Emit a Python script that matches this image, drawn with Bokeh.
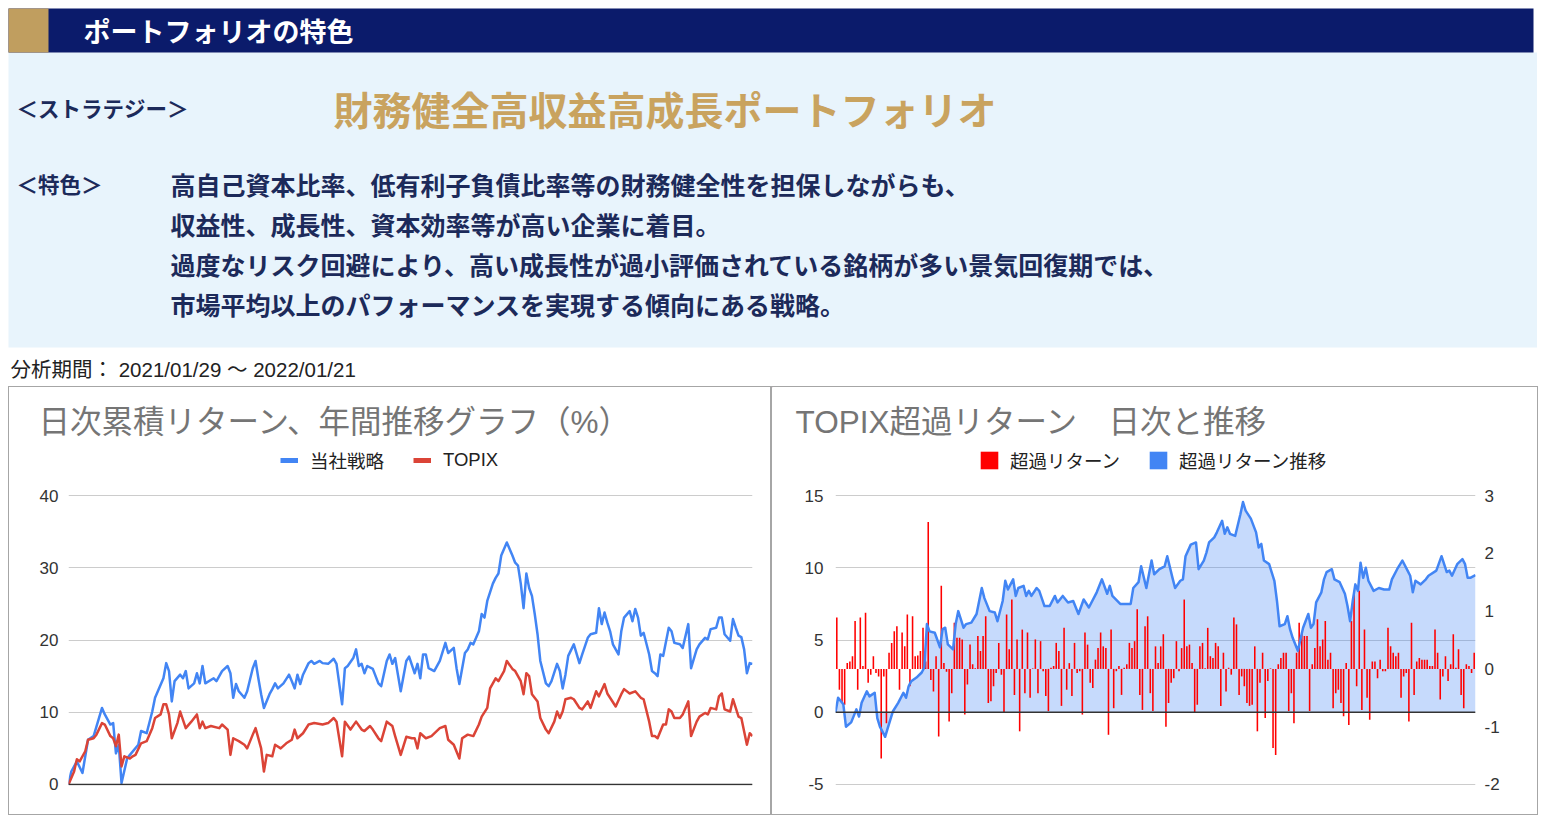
from bokeh.plotting import figure
from bokeh.models import Range1d, LinearAxis, Legend, LegendItem, Span, FixedTicker, Spacer
from bokeh.layouts import column, row
from bokeh.embed import file_html
from bokeh.resources import INLINE
from bokeh.core.properties import value

# ---------------- texts ----------------
header_title = "ポートフォリオの特色"
strategy_label = "＜ストラテジー＞"
strategy_name = "財務健全高収益高成長ポートフォリオ"
feature_label = "＜特色＞"
feature_lines = [
    "高自己資本比率、低有利子負債比率等の財務健全性を担保しながらも、",
    "収益性、成長性、資本効率等が高い企業に着目。",
    "過度なリスク回避により、高い成長性が過小評価されている銘柄が多い景気回復期では、",
    "市場平均以上のパフォーマンスを実現する傾向にある戦略。",
]
period_text = "分析期間： 2021/01/29 ～ 2022/01/21"

chart1_title = "日次累積リターン、年間推移グラフ（%）"
chart2_title = "TOPIX超過リターン　日次と推移"
chart1_series = ["当社戦略", "TOPIX"]
chart2_series = ["超過リターン", "超過リターン推移"]

left_ticks = [0, 10, 20, 30, 40]
excess_ticks = [-5, 0, 5, 10, 15]
daily_ticks = [-2, -1, 0, 1, 2, 3]

# ---------------- chart 1: cumulative return (%) by trading day ----------------
strategy_days = [
    0, 1, 3, 5, 7, 9, 12, 13, 15, 16,
    17, 18, 19, 21, 22, 25, 26, 28, 30, 31,
    32, 34, 35, 36, 37, 38, 40, 41, 42, 43,
    45, 46, 47, 48, 49, 52, 53, 55, 57, 58,
    59, 60, 61, 63, 64, 66, 67, 68, 69, 70,
    72, 73, 74, 75, 77, 79, 80, 81, 82, 83,
    84, 86, 87, 88, 90, 91, 93, 95, 96, 98,
    99, 100, 102, 103, 104, 105, 106, 107, 109, 111,
    112, 114, 115, 116, 117, 118, 119, 121, 122, 124,
    125, 126, 127, 128, 129, 131, 133, 135, 136, 138,
    139, 140, 142, 143, 144, 145, 147, 148, 149, 150,
    152, 153, 154, 155, 156, 157, 159, 160, 161, 162,
    163, 164, 165, 166, 167, 168, 169, 171, 172, 173,
    175, 176, 177, 178, 179, 181, 183, 184, 186, 187,
    189, 190, 191, 192, 193, 194, 195, 197, 198, 199,
    201, 202, 203, 204, 205, 206, 208, 209, 210, 211,
    212, 213, 215, 216, 217, 219, 220, 222, 223, 225,
    226, 228, 229, 230, 232, 233, 234, 235, 237, 238,
    239, 240, 241, 242, 243, 244, 245]
strategy_return = [
    0.0, 1.8, 3.2, 1.6, 6.2, 6.7, 10.6, 9.7, 8.3, 8.5,
    4.3, 5.5, 0.2, 3.6, 4.1, 5.5, 7.4, 7.1, 10.1, 12.0,
    12.9, 14.7, 16.8, 15.7, 11.5, 14.3, 15.2, 14.7, 15.7, 13.3,
    14.0, 15.4, 14.0, 16.4, 14.0, 14.7, 14.3, 15.7, 16.4, 15.4,
    12.0, 13.9, 12.9, 12.0, 12.9, 16.1, 17.1, 14.7, 12.5, 10.6,
    12.5, 13.2, 14.0, 13.3, 14.0, 15.2, 14.3, 13.3, 15.2, 13.9,
    15.2, 16.8, 17.1, 16.7, 17.1, 16.8, 16.7, 17.4, 16.7, 11.1,
    16.1, 16.4, 17.5, 18.7, 16.4, 16.7, 15.4, 16.4, 16.0, 14.0,
    13.6, 17.1, 18.0, 16.7, 17.5, 15.2, 12.9, 17.1, 17.7, 15.4,
    16.7, 14.7, 18.0, 18.0, 16.1, 15.7, 17.1, 19.6, 18.2, 18.9,
    16.1, 13.9, 18.2, 18.7, 19.6, 19.4, 21.2, 23.6, 23.1, 25.4,
    27.8, 28.6, 29.2, 31.7, 32.6, 33.5, 31.7, 30.7, 30.3, 27.8,
    24.4, 29.2, 27.2, 26.1, 23.6, 20.8, 17.1, 14.0, 13.6, 14.3,
    16.7, 15.7, 13.3, 15.2, 17.8, 19.4, 16.8, 18.0, 20.3, 20.8,
    21.0, 24.4, 22.2, 23.8, 22.4, 21.2, 19.4, 18.0, 21.2, 23.1,
    24.0, 22.6, 24.3, 23.1, 20.6, 21.0, 18.0, 15.7, 15.4, 15.0,
    18.0, 17.8, 21.7, 21.2, 19.6, 19.4, 18.9, 22.2, 16.1, 18.7,
    19.4, 20.3, 20.1, 21.5, 21.7, 23.1, 23.1, 20.8, 19.9, 22.9,
    21.7, 20.6, 20.4, 18.7, 15.4, 16.8, 16.7]

topix_days = [
    0, 2, 3, 4, 6, 7, 9, 10, 12, 13,
    15, 16, 17, 18, 19, 20, 22, 23, 24, 26,
    28, 30, 31, 33, 34, 35, 36, 37, 39, 40,
    42, 44, 46, 47, 48, 49, 51, 54, 55, 57,
    58, 59, 61, 63, 64, 66, 67, 69, 70, 71,
    73, 74, 76, 78, 80, 81, 82, 84, 86, 88,
    91, 93, 95, 96, 98, 99, 101, 103, 105, 106,
    108, 109, 111, 112, 114, 116, 117, 119, 121, 123,
    124, 125, 126, 128, 130, 133, 135, 136, 138, 140,
    141, 143, 145, 147, 148, 150, 151, 153, 154, 156,
    157, 159, 160, 162, 163, 164, 165, 166, 168, 169,
    171, 172, 174, 175, 176, 177, 178, 180, 181, 183,
    184, 186, 187, 189, 190, 192, 193, 196, 198, 199,
    201, 203, 205, 206, 208, 209, 210, 211, 213, 214,
    215, 216, 217, 219, 220, 222, 223, 225, 226, 228,
    229, 230, 232, 233, 234, 235, 237, 238, 239, 240,
    241, 243, 244, 245]
topix_return = [
    0.0, 1.8, 3.5, 3.2, 4.6, 6.2, 6.4, 6.9, 8.5, 8.3,
    6.7, 6.4, 5.3, 6.9, 2.5, 3.9, 3.6, 3.9, 4.1, 5.7,
    6.0, 7.8, 9.2, 9.7, 11.1, 11.1, 9.7, 6.4, 8.5, 10.1,
    7.8, 8.7, 9.7, 7.8, 8.7, 7.8, 8.1, 7.8, 8.3, 7.6,
    4.1, 6.4, 6.0, 5.5, 5.0, 6.9, 7.8, 5.0, 1.8, 4.1,
    3.9, 5.5, 5.0, 5.7, 6.2, 7.6, 6.4, 7.1, 8.3, 8.5,
    8.3, 8.5, 9.2, 8.7, 3.9, 8.7, 7.6, 8.7, 7.6, 7.4,
    8.1, 7.6, 6.4, 6.0, 8.7, 8.1, 6.7, 4.1, 6.6, 6.4,
    6.4, 5.0, 7.1, 6.4, 6.7, 7.8, 8.1, 6.2, 5.5, 3.6,
    6.4, 6.9, 6.7, 8.3, 9.4, 10.6, 13.3, 14.7, 14.3, 15.7,
    17.1, 16.0, 15.7, 14.3, 12.5, 15.4, 15.0, 12.5, 11.5, 9.2,
    7.6, 7.1, 8.7, 10.1, 9.2, 10.1, 11.8, 12.0, 11.8, 10.6,
    10.4, 11.5, 10.6, 12.9, 12.2, 13.9, 12.6, 10.8, 12.5, 13.2,
    12.6, 12.9, 12.0, 11.8, 8.7, 6.7, 6.7, 6.4, 8.3, 8.3,
    10.4, 10.1, 9.2, 9.2, 9.7, 11.5, 6.7, 8.7, 9.4, 9.9,
    9.7, 10.6, 10.4, 12.2, 12.6, 10.4, 10.1, 11.8, 10.6, 9.4,
    9.2, 5.5, 7.1, 6.7]

# ---------------- chart 2: excess return vs TOPIX ----------------
excess_days = [
    0, 1, 3, 4, 6, 8, 9, 10, 12, 13,
    15, 16, 17, 19, 20, 22, 24, 26, 27, 28,
    29, 31, 33, 34, 35, 36, 38, 40, 41, 42,
    43, 45, 46, 47, 49, 50, 52, 54, 56, 57,
    59, 61, 62, 64, 65, 66, 68, 69, 70, 72,
    73, 74, 75, 77, 78, 80, 82, 84, 85, 87,
    89, 91, 93, 95, 97, 100, 102, 104, 105, 106,
    109, 113, 114, 116, 117, 119, 121, 122, 124, 126,
    127, 129, 130, 132, 133, 134, 136, 138, 139, 141,
    142, 143, 145, 146, 148, 149, 150, 151, 153, 155,
    156, 157, 159, 161, 162, 163, 164, 166, 168, 169,
    170, 172, 173, 174, 175, 177, 178, 179, 181, 182,
    183, 184, 186, 187, 188, 190, 191, 193, 195, 196,
    197, 198, 199, 200, 201, 202, 203, 204, 206, 208,
    210, 212, 213, 215, 217, 219, 220, 221, 222, 224,
    226, 227, 230, 232, 234, 235, 236, 238, 240, 241,
    242, 243, 245]
excess_cumulative = [
    0.0, 1.0, 0.55, -1.0, -0.7, 0.2, -0.3, 0.65, 1.45, 1.1,
    1.35, -0.4, -1.0, -1.7, -1.1, 0.07, 0.65, 1.35, 1.0, 1.8,
    2.15, 2.4, 2.75, 3.1, 6.1, 5.6, 5.5, 4.5, 5.75, 5.85,
    4.7, 4.35, 6.1, 7.0, 5.85, 6.1, 6.2, 6.8, 8.6, 7.9,
    7.0, 6.9, 6.3, 7.7, 9.1, 8.5, 9.2, 8.05, 8.6, 8.75,
    8.05, 8.4, 8.05, 8.6, 8.4, 7.35, 7.35, 8.05, 7.6, 8.05,
    7.6, 7.7, 6.8, 7.8, 7.25, 8.3, 9.2, 8.2, 8.75, 8.05,
    7.5, 7.5, 8.6, 9.0, 10.1, 8.6, 10.5, 9.55, 9.9, 10.1,
    10.8, 9.3, 8.6, 9.1, 9.2, 10.8, 11.6, 11.75, 9.9, 10.5,
    11.05, 11.75, 12.1, 12.45, 13.25, 12.35, 12.8, 12.35, 12.2, 13.7,
    14.55, 13.95, 13.4, 12.45, 11.4, 11.65, 10.5, 10.25, 9.1, 7.7,
    5.95, 6.1, 6.65, 5.75, 5.15, 4.25, 5.05, 5.85, 6.8, 5.85,
    6.1, 7.6, 8.3, 9.2, 9.7, 9.9, 9.2, 9.0, 8.2, 7.35,
    6.3, 7.7, 8.85, 8.4, 10.35, 9.3, 10.0, 9.1, 8.4, 8.6,
    8.5, 8.5, 9.2, 9.9, 10.5, 9.8, 9.45, 8.3, 9.1, 8.85,
    9.2, 9.45, 9.8, 10.8, 9.7, 9.8, 9.45, 10.25, 10.6, 10.25,
    9.3, 9.3, 9.5]

daily_excess = [
    0.89, -0.36, -0.59, -0.62, 0.10, 0.13, 0.22, 0.83, -0.36, 0.89,
    0.05, 0.97, -0.24, -0.10, 0.22, -0.07, -0.13, -1.55, -0.13, -0.94,
    0.28, 0.45, 0.65, 0.74, -0.36, 0.63, 0.39, 0.94, -0.30, 0.91,
    0.22, 0.23, 0.31, 0.71, 0.13, 2.54, -0.19, -0.39, 0.22, -1.17,
    1.44, 0.10, -0.05, -0.91, -0.42, 0.80, 0.54, 0.54, 0.51, -0.79,
    -0.27, 0.42, 0.08, 0.01, 0.57, 0.31, 0.57, 0.91, -0.59, -0.56,
    -0.30, -0.07,
    0.45, -0.10, -0.76, 0.94, 0.34, 1.20, -0.45, 0.51, -1.08, 0.68,
    -0.42, 0.63, -0.50, 0.01, 0.51, -0.42, 0.48, -0.04, -0.47, -0.73,
    0.02, 0.05, 0.45, 0.31, -0.64, 0.71, -0.36, 0.10, -0.47, 0.45,
    -0.07, -0.04, -0.79, 0.63, 0.42, -0.24, -0.33, 0.16, 0.36, 0.63,
    0.39, 0.36, -1.14, 0.68, -0.68, -0.04, 0.05, -0.45, 0.02, 0.08,
    0.45, 0.36, 0.48, 1.03, -0.45, -0.71, 0.74, 0.91, -0.42,
    -0.73, 0.39, 0.10, 0.39, 0.60, -1.00, -0.59, -0.24, -0.16, 0.48,
    -0.04, 0.36, 1.20, 0.39, 0.42, 0.10, -0.76, -0.62, 0.39, 0.45,
    0.01, 0.71, 0.22, 0.19, 0.45, 0.39, -0.64, 0.28, -0.39, 0.02,
    -0.10, 0.89, 0.77, -0.45, -0.13, -0.30, -0.59, -0.64, -0.62, 0.39,
    -1.08, -0.24, 0.28, -0.85, -0.21, 0.01, -1.37, -1.49, 0.08, 0.19,
    0.28, 0.28, -0.73, -0.42, -0.94, 0.28, 0.80, 0.63, 0.57, 0.57,
    -0.73, 0.08, 0.36,
    0.86, 0.39, 0.51, 0.83, 0.16, 0.28, -0.68, -0.42, -0.36, -0.59,
    -0.82, 0.10, -0.97, 0.83, 1.35, -0.30, 1.35, -0.71, 0.68, -0.50,
    -0.88, 0.13, 0.13, -0.16, 0.16, -0.04, -0.04, 0.71, 0.39, 0.28,
    0.22, 0.28, -0.50, -0.13, -0.07, -0.91, 0.80, -0.45, 0.13, 0.19,
    0.16, 0.16, 0.16, 0.05, 0.05, 0.68, 0.28, -0.53, -0.13, 0.22,
    -0.21, 0.08, 0.60, 0.02, 0.34, -0.45, -0.68, 0.08, 0.05, -0.07,
    0.28]
daily_days = [i + 0.5 for i in range(len(daily_excess))]

# ---------------- styles ----------------
JP = "Noto Sans CJK JP"
LAT = "Liberation Sans, Noto Sans CJK JP"
BLUE = "#4285f4"
RED = "#db4437"
BAR_RED = "#ff0000"
NAVY_TEXT = "#1c2a5a"
BCOL = "1px solid #a6a6a6"
TOP_BOX = {"border-left": BCOL, "border-right": BCOL, "border-top": BCOL}
BOTTOM_BOX = {"border-left": BCOL, "border-right": BCOL, "border-bottom": BCOL}


def blank(fig):
    fig.grid.visible = False
    fig.background_fill_color = "white"
    fig.border_fill_color = "white"


# ---------------- header block (page offset 8px) ----------------
HW, HH = 1529, 378
head = figure(width=HW + 8, height=HH + 8, x_range=Range1d(-8, HW), y_range=Range1d(HH, -8),
              x_axis_location=None, y_axis_location=None, toolbar_location=None,
              output_backend="svg", min_border=0, outline_line_color=None)
blank(head)
head.quad(left=[0], right=[1529], top=[44], bottom=[339], fill_color="#e8f4fc", line_color=None)
head.quad(left=[0], right=[1525], top=[0], bottom=[44], fill_color="#0b1b6b", line_color=None)
head.quad(left=[0], right=[40], top=[0], bottom=[44], fill_color="#c09e5f", line_color=None)

head.text(x=[75], y=[22], text=[header_title], text_font=value(JP), text_font_size="27px",
          text_font_style="bold", text_color="white", text_baseline="middle")
head.text(x=[8, 8], y=[99, 175], text=[strategy_label, feature_label], text_font=value(JP),
          text_font_size="21.5px", text_font_style="bold", text_color=NAVY_TEXT, text_baseline="middle")
head.text(x=[325], y=[99], text=[strategy_name], text_font=value(JP), text_font_size="39px",
          text_font_style="bold", text_color="#c9a35f", text_baseline="middle")
head.text(x=[162] * 4, y=[175, 215, 255, 295], text=feature_lines, text_font=value(JP),
          text_font_size="25px", text_font_style="bold", text_color=NAVY_TEXT, text_baseline="middle")
head.text(x=[2], y=[361], text=[period_text], text_font=value(LAT), text_font_size="20.5px",
          text_color="#222222", text_baseline="middle")


def style_axis(ax, standoff):
    ax.axis_line_color = None
    ax.major_tick_line_color = None
    ax.minor_tick_line_color = None
    ax.major_label_text_font_size = "17px"
    ax.major_label_text_font = LAT
    ax.major_label_text_color = "#333333"
    ax.major_label_standoff = standoff


def make_legend(items, loc, gw, gh, standoff, spacing):
    return Legend(items=items, location=loc, orientation="horizontal",
                  glyph_width=gw, glyph_height=gh, label_height=22, label_width=10,
                  label_standoff=standoff, spacing=spacing, padding=0, margin=0,
                  border_line_color=None, background_fill_alpha=0,
                  label_text_font_size="18.5px", label_text_font=LAT, label_text_color="#222222")


def make_strip(width, title, title_x):
    # title + legend strip at the top of each bordered chart box (canvas = width-2 by 93)
    s = figure(width=width, height=94, x_range=Range1d(0, width - 2), y_range=Range1d(93, 0),
               x_axis_location=None, y_axis_location=None, toolbar_location=None,
               output_backend="svg", min_border=0, min_border_left=0, min_border_right=0,
               min_border_top=0, min_border_bottom=0, outline_line_color=None, styles=TOP_BOX)
    blank(s)
    s.text(x=[title_x], y=[34], text=[title], text_font=value(LAT), text_font_size="31.5px",
           text_color="#757575", text_baseline="middle")
    return s


# ---------------- chart 1 ----------------
s1 = make_strip(763, chart1_title, 29)
# legend swatches (kept off-canvas; only their legend entries are shown)
lg_b = s1.line(x=[-60, -40], y=[-50, -50], line_color=BLUE, line_width=5)
lg_r = s1.line(x=[-60, -40], y=[-50, -50], line_color=RED, line_width=5)
s1.add_layout(make_legend([LegendItem(label=chart1_series[0], renderers=[lg_b]),
                           LegendItem(label=chart1_series[1], renderers=[lg_r])],
                          (271, 8), 18, 22, 12, 29))

c1 = figure(width=763, height=335, x_range=Range1d(0, 245), y_range=Range1d(-0.139, 40.139),
            x_axis_location=None, toolbar_location=None, output_backend="svg",
            min_border_left=59, min_border_right=20, min_border_top=14, min_border_bottom=30,
            outline_line_color=None, styles=BOTTOM_BOX)
c1.background_fill_color = "white"
c1.border_fill_color = "white"
c1.yaxis.ticker = FixedTicker(ticks=left_ticks)
style_axis(c1.yaxis[0], 4)
c1.ygrid.ticker = FixedTicker(ticks=left_ticks)
c1.ygrid.grid_line_color = "#cccccc"
c1.xgrid.visible = False

c1.line(strategy_days, strategy_return, line_color=BLUE, line_width=2.5, line_join="round")
c1.line(topix_days, topix_return, line_color=RED, line_width=2.5, line_join="round")
c1.add_layout(Span(location=0, dimension="width", line_color="#333333", line_width=1.5))

# ---------------- chart 2 ----------------
s2 = make_strip(767, chart2_title, 23)
sq_r = s2.vbar(x=[-50], top=[-40], bottom=[-60], width=10, fill_color=BAR_RED, line_color=None)
sq_b = s2.vbar(x=[-50], top=[-40], bottom=[-60], width=10, fill_color=BLUE, line_color=None)
s2.add_layout(make_legend([LegendItem(label=chart2_series[0], renderers=[sq_r]),
                           LegendItem(label=chart2_series[1], renderers=[sq_b])],
                          (206, 8), 22, 22, 10, 27))

c2 = figure(width=767, height=335, x_range=Range1d(0, 245), y_range=Range1d(-5.07, 15.07),
            x_axis_location=None, toolbar_location=None, output_backend="svg",
            min_border_left=63, min_border_right=64, min_border_top=14, min_border_bottom=30,
            outline_line_color=None, styles=BOTTOM_BOX)
c2.background_fill_color = "white"
c2.border_fill_color = "white"
c2.extra_y_ranges = {"daily": Range1d(-2.0174, 3.0174)}
c2.yaxis.ticker = FixedTicker(ticks=excess_ticks)
style_axis(c2.yaxis[0], 6)
c2.yaxis[0].major_label_overrides = {t: str(t) for t in excess_ticks}
ax_r = LinearAxis(y_range_name="daily", ticker=FixedTicker(ticks=daily_ticks))
style_axis(ax_r, 3)
ax_r.major_label_overrides = {t: str(t) for t in daily_ticks}
c2.add_layout(ax_r, "right")
c2.ygrid.ticker = FixedTicker(ticks=excess_ticks)
c2.ygrid.grid_line_color = "#cccccc"
c2.xgrid.visible = False

c2.varea(x=excess_days, y1=0, y2=excess_cumulative, fill_color=BLUE, fill_alpha=0.3)
c2.add_layout(Span(location=0, dimension="width", line_color="#333333", line_width=1.5))
c2.vbar(x=daily_days, top=daily_excess, bottom=0, width=0.6, y_range_name="daily",
        fill_color=BAR_RED, line_color=None)
c2.line(excess_days, excess_cumulative, line_color=BLUE, line_width=2.5, line_join="round")

layout = column(head,
                row(Spacer(width=8, height=94), s1, s2),
                row(Spacer(width=8, height=335), c1, c2))
open("out.html", "w").write(file_html(layout, INLINE))
